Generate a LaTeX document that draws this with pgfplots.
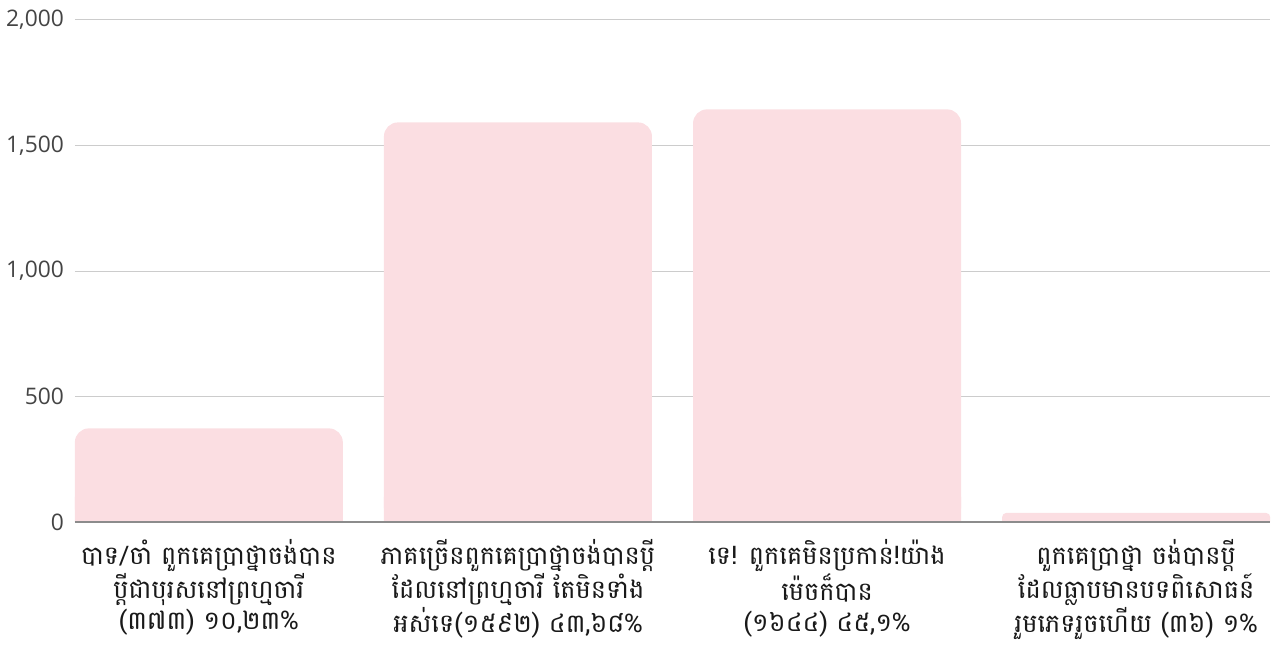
\documentclass[border=0pt]{standalone}
\usepackage{fontspec}
\usepackage{pgfplots}
\pgfplotsset{compat=1.18}
\newfontfamily\khmerfont[Script=Khmer]{Battambang}
\newfontfamily\opensans{Open Sans}
\definecolor{barpink}{RGB}{251,222,226}
\definecolor{gridgray}{RGB}{204,204,204}
\definecolor{ticktext}{RGB}{68,68,68}
\definecolor{zeroline}{RGB}{140,140,140}
\begin{document}
\begin{tikzpicture}
\path[use as bounding box] (-37.5pt,-63pt) rectangle (600pt,261pt);
\begin{axis}[
  at={(0,0)}, anchor=south west,
  scale only axis, width=597.5pt, height=251pt,
  xmin=-0.433, xmax=3.433, ymin=0, ymax=2000,
  ybar, bar width=0.867,
  axis line style={draw=none},
  ymajorgrids, grid style={gridgray, line width=0.5pt},
  ytick={0,500,1000,1500,2000},
  xtick={0,1,2,3},
  major tick length=0pt,
  tick style={draw=none},
  /pgf/number format/.cd, 1000 sep={,}, assume math mode=true,
  /pgfplots/.cd,
  yticklabel style={font=\opensans\fontsize{11.4}{13}\selectfont, text=ticktext, xshift=-2pt},
  xticklabel style={font=\khmerfont\fontsize{12.8}{15.5}\selectfont, align=center, text=black!90, inner sep=0.5pt, yshift=-8pt},
  xticklabels={
    {បាទ/ចាំ ពួកគេប្រាថ្នាចង់បាន\\ប្ដីជាបុរសនៅព្រហ្មចារី\\(៣៧៣) ១០,២៣\%},
    {ភាគច្រើនពួកគេប្រាថ្នាចង់បានប្ដី\\ដែលនៅព្រហ្មចារី តែមិនទាំង\\អស់ទេ(១៥៩២) ៤៣,៦៨\%},
    {ទេ! ពួកគេមិនប្រកាន់!យ៉ាង\\ម៉េចក៏បាន\\(១៦៤៤) ៤៥,១\%},
    {ពួកគេប្រាថ្នា ចង់បានប្ដី\\ដែលធ្លាបមានបទពិសោធន៍\\រួមភេទរួចហើយ (៣៦) ១\%}
  },
]
\addplot[fill=barpink, draw=none, rounded corners=7pt, bar shift=0pt] coordinates {(0,373) (1,1592) (2,1644)};
\addplot[fill=barpink, draw=none, rounded corners=2pt, bar shift=0pt] coordinates {(3,36)};
\addplot[fill=barpink, draw=none, bar shift=0pt] coordinates {(0,100) (1,100) (2,100) (3,18)};
\draw[zeroline, line width=0.6pt] (axis cs:-0.433,0) -- (axis cs:3.433,0);
\end{axis}
\end{tikzpicture}
\end{document}
